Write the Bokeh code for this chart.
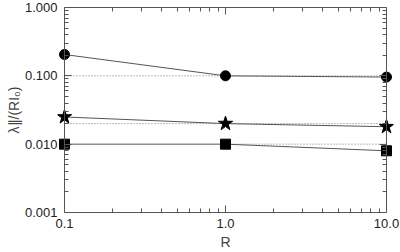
from bokeh.plotting import figure
from bokeh.models import LogAxis, FixedTicker, PrintfTickFormatter
from bokeh.embed import file_html
from bokeh.resources import INLINE

R = [0.1, 1.0, 10.0]
circle_vals = [0.205, 0.100, 0.096]
star_vals = [0.025, 0.020, 0.018]
square_vals = [0.010, 0.010, 0.008]
ref_circle = [0.1, 0.1]
ref_circle_x = [0.1, 10.0]
ref_star = [0.02, 0.02]
ref_star_x = [0.1, 10.0]
ref_square = [0.01, 0.01]
ref_square_x = [1.0, 10.0]
x_ticks = [0.1, 1.0, 10.0]
y_ticks = [0.001, 0.01, 0.1, 1.0]

FONT = "Liberation Sans"
AX = "#555555"

# frame padded horizontally so edge markers are not clipped;
# the visible box is formed by axes bounded to 0.1..10
XMIN, XMAX = 0.1, 10.0
PAD = 1.1052

p = figure(width=400, height=252, x_axis_type="log", y_axis_type="log",
           x_range=(XMIN / PAD, XMAX * PAD), y_range=(0.001, 1.0),
           output_backend="svg", toolbar_location=None,
           min_border_left=57, min_border_right=7, min_border_top=7, min_border_bottom=38)
p.grid.visible = False
p.outline_line_color = None
p.background_fill_color = "white"
p.border_fill_color = "white"

xminor = [m * d for d in [0.1, 1.0] for m in range(2, 10)]
yminor = [m * d for d in [0.001, 0.01, 0.1] for m in range(2, 10)]

def style(ax, labels=True):
    ax.major_tick_in = 7
    ax.major_tick_out = 0
    ax.minor_tick_in = 4
    ax.minor_tick_out = 0
    ax.axis_line_color = AX
    ax.major_tick_line_color = AX
    ax.minor_tick_line_color = AX
    ax.major_label_text_font = FONT
    ax.major_label_text_color = "#222222"
    if labels:
        ax.major_label_text_font_size = "13px"
    else:
        ax.major_label_text_font_size = "1px"
        ax.major_label_text_color = None
        ax.major_label_standoff = 0

xa = p.xaxis[0]
xa.ticker = FixedTicker(ticks=x_ticks, minor_ticks=xminor)
xa.formatter = PrintfTickFormatter(format="%.1f")
xa.bounds = (XMIN, XMAX)
xa.axis_label = "R"
xa.axis_label_text_font = FONT
xa.axis_label_text_font_style = "normal"
xa.axis_label_text_font_size = "14px"
xa.axis_label_standoff = 3
xa.major_label_standoff = 6
style(xa)

# left box side: ticks only, at x = 0.1
ya = p.yaxis[0]
ya.ticker = FixedTicker(ticks=y_ticks, minor_ticks=yminor)
ya.fixed_location = XMIN
style(ya, labels=False)

# left labels + title, in the side panel (no line / ticks)
yl = LogAxis(ticker=FixedTicker(ticks=y_ticks, minor_ticks=[]),
             formatter=PrintfTickFormatter(format="%.3f"))
style(yl)
yl.axis_line_color = None
yl.major_tick_line_color = None
yl.minor_tick_line_color = None
yl.major_tick_in = 0
yl.minor_tick_in = 0
yl.major_label_standoff = 0
yl.axis_label = "λ∥/(RI₀)"
yl.axis_label_text_font = FONT
yl.axis_label_text_font_style = "normal"
yl.axis_label_text_font_size = "14px"
yl.axis_label_standoff = 0
p.add_layout(yl, "left")

top = LogAxis(ticker=FixedTicker(ticks=x_ticks, minor_ticks=xminor), bounds=(XMIN, XMAX))
style(top, labels=False)
p.add_layout(top, "above")
right = LogAxis(ticker=FixedTicker(ticks=y_ticks, minor_ticks=yminor), fixed_location=XMAX)
style(right, labels=False)
p.add_layout(right, "right")

# dotted reference lines
p.line(ref_circle_x, ref_circle, line_color="#777777", line_dash="1 2", line_width=1)
p.line(ref_star_x, ref_star, line_color="#777777", line_dash="1 2", line_width=1)
p.line(ref_square_x, ref_square, line_color="#777777", line_dash="1 2", line_width=1)

# solid connecting lines
for vals in (circle_vals, star_vals, square_vals):
    p.line(R, vals, line_color="#555555", line_width=1)

p.scatter(R, circle_vals, marker="circle", size=10, color="black")
p.scatter(R, star_vals, marker="star", size=15, color="black")
p.scatter(R, square_vals, marker="square", size=10, color="black")

open("out.html", "w").write(file_html(p, INLINE))
